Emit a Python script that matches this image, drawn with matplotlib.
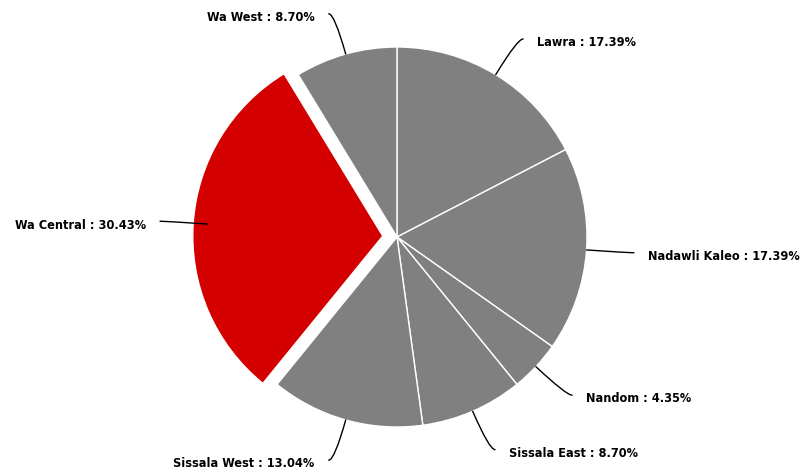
import numpy as np
import matplotlib.pyplot as plt

districts = ['Lawra', 'Nadawli Kaleo', 'Nandom', 'Sissala East',
             'Sissala West', 'Wa Central', 'Wa West']
shares = [17.39, 17.39, 4.35, 8.70, 13.04, 30.43, 8.70]
highlight = 'Wa Central'

grey = '#808080'
red = '#d40000'
R = 190.0  # pie radius in px

fig = plt.figure(figsize=(8.03, 4.72), dpi=100)
ax = fig.add_axes([0, 0, 1, 1])

colors = [red if d == highlight else grey for d in districts]
explode = [0.075 if d == highlight else 0 for d in districts]

wedges, _ = ax.pie(shares, colors=colors, explode=explode, startangle=90,
                   counterclock=False, radius=1.0,
                   wedgeprops=dict(edgecolor='white', linewidth=1.0))

# pie() resets the limits, so set them afterwards
ax.set_xlim(-397 / R, (803 - 397) / R)
ax.set_ylim(-(472 - 237) / R, 237 / R)
ax.set_aspect('equal')
ax.axis('off')

# connectors and labels are placed around the unexploded pie
for w, name, val in zip(wedges, districts, shares):
    mid = np.deg2rad((w.theta1 + w.theta2) / 2)
    c, s = np.cos(mid), np.sin(mid)
    rim = (c, s)
    side = 1 if c >= 0 else -1
    anchor = (1.22 * c + 0.03 * side, 1.22 * s)
    ang = np.rad2deg(mid)
    ax.annotate('', xy=rim, xytext=anchor,
                arrowprops=dict(arrowstyle='-', color='black', lw=1.0,
                                shrinkA=0, shrinkB=0,
                                connectionstyle='angle3,angleA=0,angleB=%.1f' % ang))
    ax.text(anchor[0] + 0.074 * side, anchor[1] - 0.02, '%s : %.2f%%' % (name, val),
            ha='left' if side > 0 else 'right', va='center',
            fontsize=9.1, fontweight='bold', fontstretch='condensed',
            color='black', family=['DejaVu Sans'])

fig.savefig('out.png', dpi=100)
